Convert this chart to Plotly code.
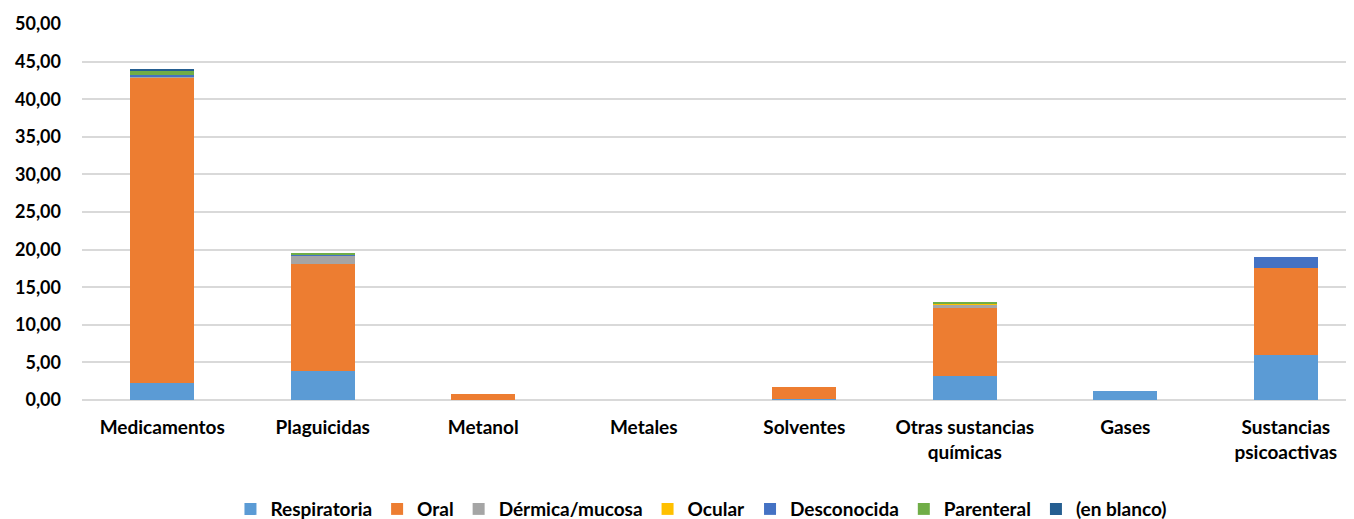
import plotly.graph_objects as go

categories = ["Medicamentos", "Plaguicidas", "Metanol", "Metales", "Solventes",
              "Otras sustancias<br>químicas", "Gases", "Sustancias<br>psicoactivas"]

respiratoria = [2.26, 3.86, 0.0, 0.0, 0.20, 3.24, 1.25, 6.00]
oral         = [40.50, 14.20, 0.75, 0.0, 1.55, 8.95, 0.0, 11.60]
dermica      = [0.30, 1.15, 0.0, 0.0, 0.0, 0.55, 0.0, 0.0]
ocular       = [0.0, 0.0, 0.0, 0.0, 0.0, 0.15, 0.0, 0.0]
desconocida  = [0.15, 0.20, 0.0, 0.0, 0.0, 0.0, 0.0, 1.40]
parenteral   = [0.55, 0.12, 0.0, 0.0, 0.0, 0.20, 0.0, 0.0]
en_blanco    = [0.15, 0.0, 0.0, 0.0, 0.0, 0.0, 0.0, 0.0]

series = [
    ("Respiratoria", respiratoria, "#5B9BD5"),
    ("Oral", oral, "#ED7D31"),
    ("Dérmica/mucosa", dermica, "#A5A5A5"),
    ("Ocular", ocular, "#FFC000"),
    ("Desconocida", desconocida, "#4472C4"),
    ("Parenteral", parenteral, "#70AD47"),
    ("(en blanco)", en_blanco, "#255E91"),
]

fig = go.Figure()
for name, vals, color in series:
    fig.add_trace(go.Bar(
        x=list(range(len(categories))), y=vals, name=name,
        marker=dict(color=color, line=dict(width=0)),
    ))

font_family = "Lato, 'Open Sans', sans-serif"
fig.update_layout(
    barmode="stack",
    bargap=0.6,
    width=1346, height=511,
    margin=dict(l=74, r=0, t=16, b=119, autoexpand=False),
    paper_bgcolor="white", plot_bgcolor="white",
    separators=",.",
    font=dict(family=font_family, size=18, color="#000000"),
    showlegend=True,
    legend=dict(orientation="h", x=0.487, xanchor="center", y=-0.29, yanchor="middle",
                font=dict(family=font_family, size=19, color="#000000", weight="bold"),
                traceorder="normal", itemwidth=30),
    xaxis=dict(
        tickmode="array", tickvals=list(range(len(categories))), ticktext=categories,
        range=[-0.5, 7.425], showgrid=False, zeroline=False, showline=False,
        automargin=False, ticks="", ticklabelstandoff=14,
        tickfont=dict(family=font_family, size=19, color="#000000", weight="bold"),
    ),
    yaxis=dict(
        range=[0, 50], dtick=5, tickformat=".2f", showgrid=True, automargin=False,
        gridcolor="#D9D9D9", gridwidth=1.5, zeroline=True, zerolinecolor="#D9D9D9",
        zerolinewidth=1.5, showline=False, ticks="", ticklabelstandoff=20,
        tickfont=dict(family=font_family, size=18, color="#000000", weight="bold"),
    ),
)

fig.write_html("out.html")
